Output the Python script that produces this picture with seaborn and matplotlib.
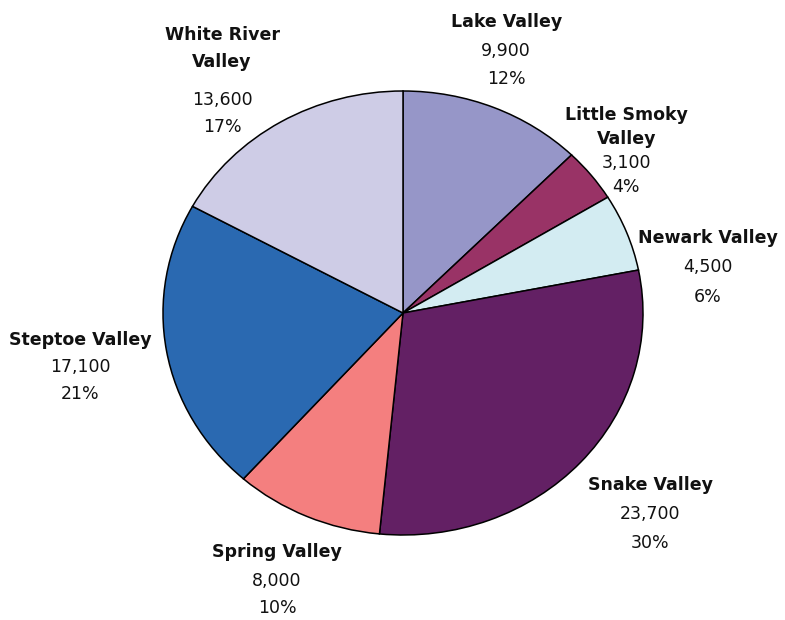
import matplotlib
matplotlib.use("Agg")
import matplotlib.pyplot as plt
import seaborn as sns

# Data (clockwise from 12 o'clock)
basins = ['Lake Valley', 'Little Smoky Valley', 'Newark Valley', 'Snake Valley',
          'Spring Valley', 'Steptoe Valley', 'White River Valley']
name_lines = [['Lake Valley'], ['Little Smoky', 'Valley'], ['Newark Valley'], ['Snake Valley'],
              ['Spring Valley'], ['Steptoe Valley'], ['White River', 'Valley']]
volumes = [9900, 3100, 4500, 23700, 8000, 17100, 13600]
colors = ['#9696C8', '#993366', '#D3ECF2', '#632064', '#F47F7F', '#2A69B1', '#CECCE6']

# label placement (first line centre, in pie-radius units), gap after name, line gap
label_pos = [(0.43, 1.31), (0.93, 0.89), (1.27, 0.34), (1.03, -0.775),
             (-0.525, -1.077), (-1.346, -0.122), (-0.754, 1.252)]
name_gap = [0.128, 0.105, 0.135, 0.13, 0.13, 0.12, 0.17]
line_gap = [0.13, 0.108, 0.135, 0.13, 0.12, 0.125, 0.122]

sns.set_theme(style='white')
plt.rcParams['font.family'] = ['DejaVu Sans']

fig = plt.figure(figsize=(7.85, 6.2), dpi=100)
ax = fig.add_axes([0, 0, 1, 1])

ax.pie(volumes, colors=colors, startangle=90, counterclock=False,
       wedgeprops=dict(edgecolor='black', linewidth=1.1))
ax.set_aspect('auto')
# pie is a bit wider than tall in the original
ax.set_xlim(-403 / 240, (785 - 403) / 240)
ax.set_ylim((313 - 620) / 222, 313 / 222)
ax.axis('off')

total = sum(volumes)
for lines, v, (x, y), ng, g in zip(name_lines, volumes, label_pos, name_gap, line_gap):
    for i, ln in enumerate(lines):
        ax.text(x, y, ln, ha='center', va='center', fontsize=12.5, fontweight='bold', color='#111111')
        y -= ng if i == len(lines) - 1 else g
    ax.text(x, y, f'{v:,}', ha='center', va='center', fontsize=12.5, color='#111111')
    y -= g
    ax.text(x, y, f'{round(100 * v / total)}%', ha='center', va='center', fontsize=12.5, color='#111111')

fig.savefig('out.png', dpi=100)
